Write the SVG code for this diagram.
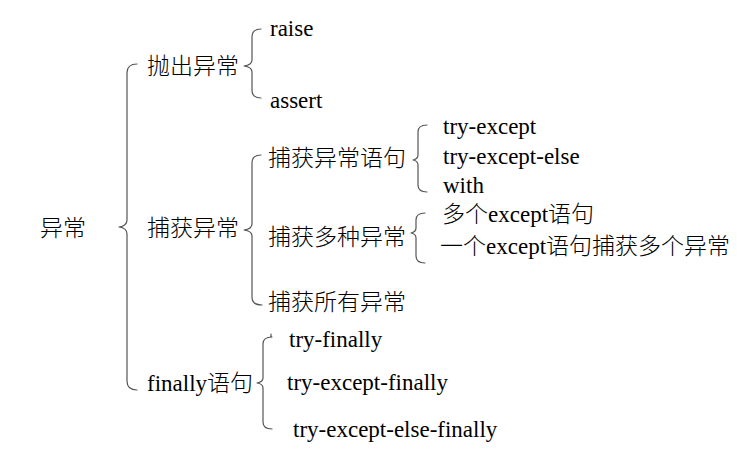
<svg xmlns="http://www.w3.org/2000/svg" width="754" height="463" viewBox="0 0 754 463">
<style>
text{font-family:"Liberation Serif","Noto Sans CJK SC",serif;font-size:23px;font-weight:300;fill:#000}
.br{fill:none;stroke:#555;stroke-width:1.2;stroke-linejoin:round;stroke-linecap:round}
</style>
<rect width="754" height="463" fill="#fff"/>
<g id="connectors">
<path class="br" d="M137,64 Q127,64 127,73 L127,220 Q127,226 119,227 Q127,228 127,234 L127,381 Q127,390 137,390"/>
<path class="br" d="M261,29 Q252,29 252,37 L252,60 Q252,65 244,66 Q252,67 252,72 L252,90 Q252,98 261,98"/>
<path class="br" d="M261,155 Q252,155 252,163 L252,224 Q252,229 244,230 Q252,231 252,236 L252,297 Q252,305 262,305"/>
<path class="br" d="M271,334 L271,337 M272,337 Q263,337 263,344 L263,378 Q263,382 257,383 Q263,384 263,388 L263,422 Q263,429 272,429"/>
<path class="br" d="M427,125 Q418,125 418,132 L418,155 Q418,159 413,160 Q418,161 418,165 L418,185 Q418,192 427,192"/>
<path class="br" d="M425,213 Q416,213 416,220 L416,228 Q416,232 411,233 Q416,234 416,238 L416,256 Q416,263 425,263"/>
</g>
<g id="root"><text x="40" y="236">异常</text></g>
<g id="throw"><text x="147" y="74">抛出异常</text></g>
<g id="catch"><text x="147" y="236">捕获异常</text></g>
<g id="finally"><text x="147" y="391">finally语句</text></g>
<g id="raise"><text x="270" y="36">raise</text></g>
<g id="assert"><text x="270" y="108">assert</text></g>
<g id="catch-stmt"><text x="268" y="166">捕获异常语句</text></g>
<g id="catch-multi"><text x="268" y="245">捕获多种异常</text></g>
<g id="catch-all"><text x="268" y="310">捕获所有异常</text></g>
<g id="try-except"><text x="443" y="134">try-except</text></g>
<g id="try-except-else"><text x="443" y="164">try-except-else</text></g>
<g id="with"><text x="443" y="193">with</text></g>
<g id="multi-except"><text x="442" y="222">多个except语句</text></g>
<g id="one-except"><text x="440" y="254">一个except语句捕获多个异常</text></g>
<g id="try-finally"><text x="289" y="347">try-finally</text></g>
<g id="try-except-finally"><text x="287" y="390">try-except-finally</text></g>
<g id="try-except-else-finally"><text x="293" y="437">try-except-else-finally</text></g>
</svg>
